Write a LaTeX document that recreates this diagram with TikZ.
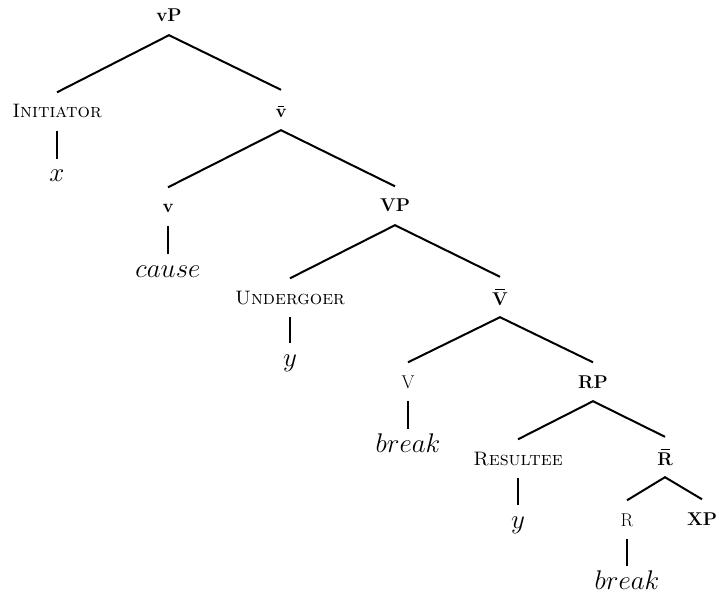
\RequirePackage{fix-cm}
\documentclass[tikz,border=0pt]{standalone}
\newsavebox{\mybarbox}
\newcommand{\barred}[2][2.2pt]{\sbox{\mybarbox}{#2}\hbox{\rlap{\hbox to\wd\mybarbox{\hss\raise\dimexpr\ht\mybarbox+#1\relax\hbox{\vrule width .58\wd\mybarbox height 1.5pt depth 0pt}\hss}}\usebox{\mybarbox}}}
\begin{document}
\begin{tikzpicture}[x=1pt,y=-1pt,
  lab/.style={font=\fontsize{18.5}{21}\selectfont, inner xsep=0pt, inner ysep=13pt, text height=12.5pt, text depth=0pt, anchor=base},
  barlab/.style={lab, text height=16pt, inner ysep=12pt},
  sclab/.style={lab, font=\fontsize{19.5}{22}\selectfont},
  leaf/.style={font=\fontsize{27}{30}\selectfont, inner xsep=0pt, inner ysep=0pt, text height=23pt, text depth=0pt, anchor=base},
  edge/.style={line width=2pt}]
\useasboundingbox (0,0) rectangle (719,593);
\node[lab] (vP) at (169,22) {\textbf{vP}};
\node[sclab] (init) at (57,118) {\textsc{Initiator}};
\node[leaf] (x) at (57,182) {$x$};
\node[barlab] (vbar) at (281,118) {\barred[2.5pt]{\textbf{v}}};
\node[lab] (v) at (168,213) {\textbf{v}};
\node[leaf] (cause) at (168,277) {$cause$};
\node[lab] (VP) at (395,212) {\textbf{VP}};
\node[sclab] (und) at (290,304) {\textsc{Undergoer}};
\node[leaf] (y1) at (290,366) {$y$};
\node[barlab] (Vbar) at (500,305) {\barred{\textbf{V}}};
\node[lab] (V) at (408,388) {V};
\node[leaf] (brk1) at (408,452) {$break$};
\node[lab] (RP) at (593,388) {\textbf{RP}};
\node[sclab] (res) at (518,465) {\textsc{Resultee}};
\node[leaf] (y2) at (518,528) {$y$};
\node[barlab] (Rbar) at (665,465) {\barred{\textbf{R}}};
\node[lab] (R) at (627,526) {R};
\node[lab] (XP) at (702,525) {\textbf{XP}};
\node[leaf] (brk2) at (627,589) {$break$};
\draw[edge] (init.north) -- (vP.south) -- (vbar.north);
\draw[edge] (init.south) -- (x.north);
\draw[edge] (v.north) -- (vbar.south) -- (VP.north);
\draw[edge] (v.south) -- (cause.north);
\draw[edge] (und.north) -- (VP.south) -- (Vbar.north);
\draw[edge] (und.south) -- (y1.north);
\draw[edge] (V.north) -- (Vbar.south) -- (RP.north);
\draw[edge] (V.south) -- (brk1.north);
\draw[edge] (res.north) -- (RP.south) -- (Rbar.north);
\draw[edge] (res.south) -- (y2.north);
\draw[edge] (R.north) -- (Rbar.south) -- (XP.north);
\draw[edge] (R.south) -- (brk2.north);
\end{tikzpicture}
\end{document}
